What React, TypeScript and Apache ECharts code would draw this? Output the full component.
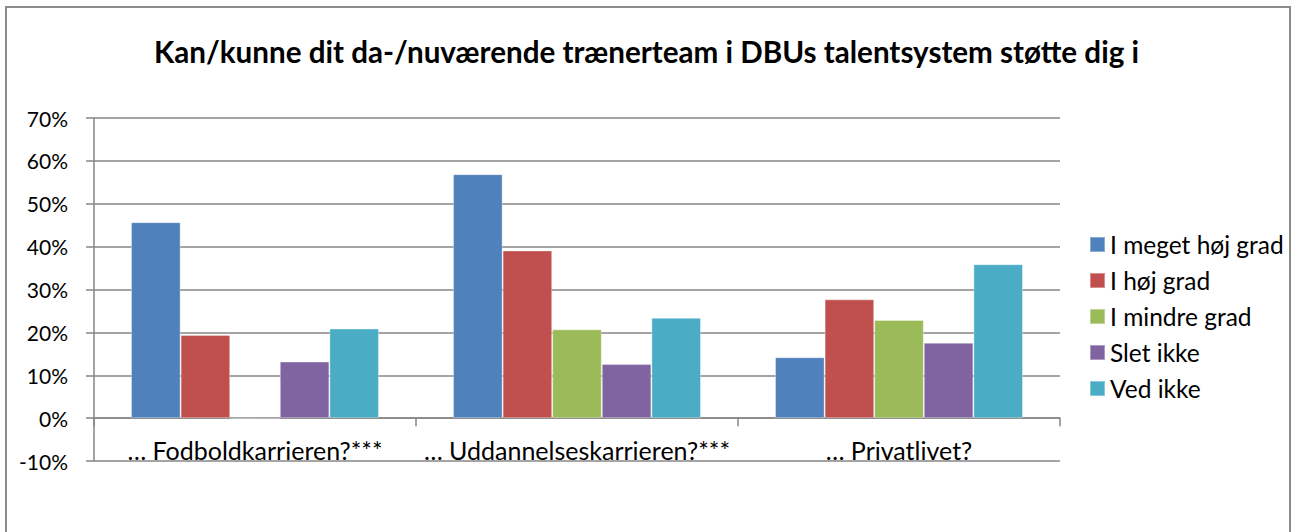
import React, { useEffect, useRef } from "react";
import * as echarts from "echarts";

const categories = ["… Fodboldkarrieren?***", "… Uddannelseskarrieren?***", "… Privatlivet?"];
const seriesNames = ["I meget høj grad", "I høj grad", "I mindre grad", "Slet ikke", "Ved ikke"];
const meget = [45.7, 56.9, 14.2];
const hoej = [19.4, 39.1, 27.7];
const mindre = [0, 20.7, 22.9];
const slet = [13.2, 12.6, 17.6];
const vedIkke = [20.9, 23.4, 35.9];
const colors = ["#4F81BD", "#C0504D", "#9BBB59", "#8064A2", "#4BACC6"];
const titleText = "Kan/kunne dit da-/nuværende trænerteam i DBUs talentsystem støtte dig i";

const FONT = "Lato, 'Open Sans', sans-serif";

export default function App() {
  const ref = useRef<HTMLDivElement>(null);
  useEffect(() => {
    if (!ref.current) return;
    const chart = echarts.init(ref.current, null, { renderer: "svg" });
    const data = [meget, hoej, mindre, slet, vedIkke];
    chart.setOption({
      animation: false,
      backgroundColor: "#ffffff",
      textStyle: { fontFamily: FONT },
      title: {
        text: titleText,
        left: "center",
        top: 31,
        textStyle: { fontFamily: FONT, fontSize: 29.6, fontWeight: "bold", color: "#000" },
      },
      graphic: [
        {
          type: "rect",
          shape: { x: 6, y: 7, width: 1284, height: 540 },
          style: { fill: "none", stroke: "#8c8c8c", lineWidth: 2 },
          silent: true,
        },
      ],
      legend: {
        orient: "vertical",
        left: 1084,
        top: 227,
        icon: "rect",
        itemWidth: 15,
        itemHeight: 15,
        itemGap: 11,
        data: seriesNames,
        textStyle: { fontFamily: FONT, fontSize: 24.5, color: "#000", lineHeight: 22 },
      },
      grid: { left: 94, right: 233, top: 118, bottom: 71, containLabel: false },
      xAxis: {
        type: "category",
        data: categories,
        axisLine: { onZero: true, lineStyle: { color: "#868686", width: 1.5 } },
        axisTick: { show: true, length: 8, lineStyle: { color: "#868686", width: 1.5 } },
        axisLabel: { interval: 0, margin: -24, fontFamily: FONT, fontSize: 25, color: "#000" },
      },
      yAxis: {
        type: "value",
        min: -10,
        max: 70,
        interval: 10,
        axisLine: { show: true, lineStyle: { color: "#868686", width: 1.5 } },
        axisTick: { show: true, length: 8, lineStyle: { color: "#868686", width: 1.5 } },
        splitLine: { show: true, lineStyle: { color: "#868686", width: 1.5 } },
        axisLabel: { formatter: "{value}%", margin: 26, fontFamily: FONT, fontSize: 21, color: "#000" },
      },
      series: seriesNames.map((name, i) => ({
        name,
        type: "bar",
        data: data[i],
        barGap: "0%",
        barCategoryGap: "23%",
        itemStyle: { color: colors[i], borderColor: "rgba(255,255,255,0.35)", borderWidth: 1 },
      })),
    });
    return () => chart.dispose();
  }, []);
  return (
    <div
      ref={ref}
      style={{ position: "fixed", left: 0, top: 0, width: 1293, height: 532, background: "#fff" }}
    />
  );
}
